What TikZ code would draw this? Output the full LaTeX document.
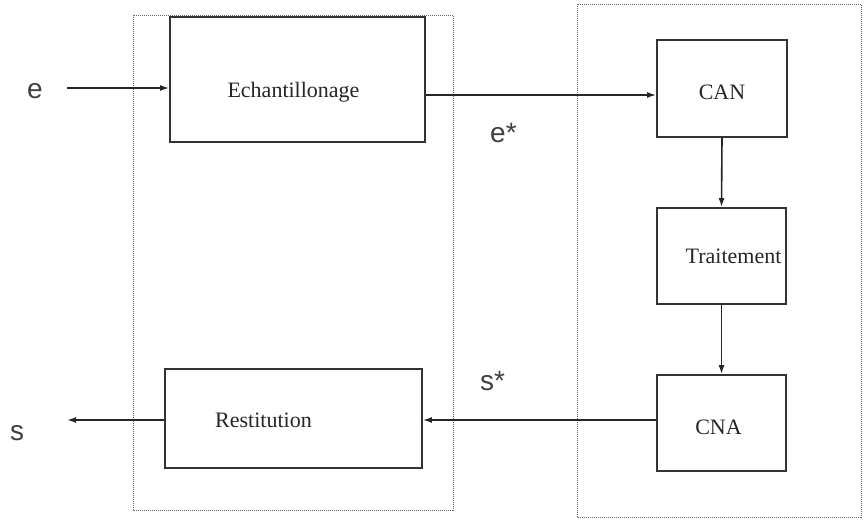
\documentclass[tikz,border=0pt]{standalone}
\usepackage{fontspec}
\setmainfont{Liberation Serif}
\newfontfamily\sigfont{Liberation Sans}
\usetikzlibrary{arrows.meta}

\tikzset{
	bloc/.style={draw=black!80, line width=1.7pt, fill=white, inner sep=0pt},
	zone/.style={draw=black!60, line width=1pt, dash pattern=on 1pt off 1pt},
	fleche/.style={draw=black!85, line width=1.6pt, -{Latex[length=9pt,width=6pt]}},
	signal/.style={font=\sigfont\fontsize{28}{30}\selectfont, text=black!75, inner sep=0pt, anchor=base west},
	texte/.style={font=\fontsize{22}{24}\selectfont, text=black!85}
}

\begin{document}
\begin{tikzpicture}[x=1pt,y=-1pt]
	\useasboundingbox (0,0) rectangle (864,520);
	
	% zones
	\draw[zone] (133,15) rectangle (453,510);
	\draw[zone] (577,4) rectangle (861,517);
	
	% blocs
	\node[bloc, minimum width=255pt, minimum height=125pt,
		label={[texte, name=echantTxt, xshift=-4pt, yshift=-13pt]center:Echantillonage}] (echant) at (297.5,79.5) {};
	\node[bloc, minimum width=130pt, minimum height=97pt,
		label={[texte, name=canTxt, yshift=-4pt]center:CAN}] (can) at (722,88.5) {};
	\node[bloc, minimum width=129pt, minimum height=96pt,
		label={[texte, name=traitTxt, xshift=12pt]center:Traitement}] (trait) at (721.5,256) {};
	\node[bloc, minimum width=129pt, minimum height=96pt,
		label={[texte, name=cnaTxt, xshift=-3pt, yshift=-4pt]center:CNA}] (cna) at (721.5,423) {};
	\node[bloc, minimum width=257pt, minimum height=99pt,
		label={[texte, name=restiTxt, xshift=-30pt, yshift=-2pt]center:Restitution}] (resti) at (293.5,418.5) {};
	
	% signaux
	\node[signal] (e) at (27,98) {e};
	\node[signal] (estar) at (490,142) {e*};
	\node[signal] (sstar) at (480,390) {s*};
	\node[signal] (s) at (10,440) {s};
	\coordinate (ein) at (67,88);
	\coordinate (sout) at (67,420);
	
	% liaisons
	\draw[fleche] (ein) -- (echant.west |- ein);
	\draw[fleche] (echant.east |- 0,95) -- (can.west |- 0,95);
	\draw[fleche] (can.south) -- (trait.north);
	\draw[fleche] (trait.south) -- (cna.north);
	\draw[fleche] (cna.west |- sout) -- (resti.east |- sout);
	\draw[fleche] (resti.west |- sout) -- (sout);
\end{tikzpicture}
\end{document}
